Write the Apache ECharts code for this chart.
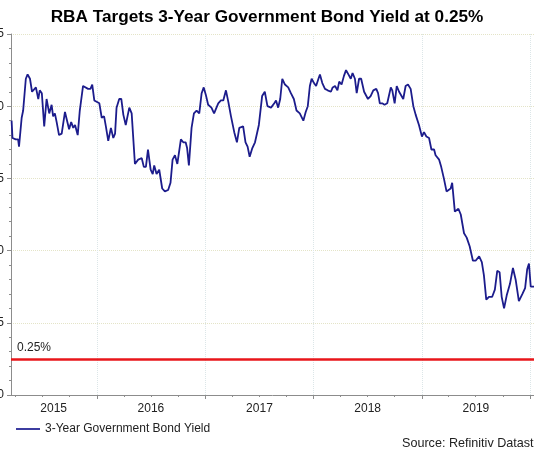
<!DOCTYPE html>
<html>
<head>
<meta charset="utf-8">
<script src="https://cdn.jsdelivr.net/npm/echarts@6/dist/echarts.min.js"></script>
<style>
html,body{margin:0;padding:0;background:#fff;}
#chart{width:534px;height:453px;}
</style>
</head>
<body>
<div id="chart"></div>
<script>
var titleText = 'RBA Targets 3-Year Government Bond Yield at 0.25%';
var seriesName = '3-Year Government Bond Yield';
var sourceText = 'Source: Refinitiv Datastream';
var targetYield = 0.25;
var targetLabel = '0.25%';
var axisMin = '2015-03-17';
var axisMax = '2020-01-14';
var yearStarts = ['2016-01-01','2017-01-01','2018-01-01','2019-01-01','2020-01-01'];
var quarterTicks = ['2015-04-01','2015-07-01','2015-10-01','2016-04-01','2016-07-01','2016-10-01',
  '2017-04-01','2017-07-01','2017-10-01','2018-04-01','2018-07-01','2018-10-01',
  '2019-04-01','2019-07-01','2019-10-01'];
var yearLabelPos = ['2015-08-08','2016-07-01','2017-07-02','2018-07-02','2019-07-02'];

var dates = [
'2015-03-19','2015-03-22','2015-04-02','2015-04-10','2015-04-13','2015-04-22','2015-04-27','2015-05-06','2015-05-12','2015-05-20',
'2015-05-27','2015-06-02','2015-06-09','2015-06-17','2015-06-22','2015-06-29','2015-07-07','2015-07-15','2015-07-24','2015-08-01',
'2015-08-06','2015-08-12','2015-08-18','2015-08-26','2015-09-04','2015-09-15','2015-09-29','2015-10-06','2015-10-13','2015-10-19',
'2015-10-28','2015-11-04','2015-11-15','2015-12-02','2015-12-10','2015-12-16','2015-12-23',
'2016-01-09','2016-01-17','2016-01-25','2016-01-31','2016-02-08','2016-02-17','2016-02-25','2016-03-02','2016-03-07','2016-03-16',
'2016-03-23','2016-03-30','2016-04-07','2016-04-14','2016-04-19','2016-04-27','2016-05-08','2016-05-19','2016-05-31','2016-06-07',
'2016-06-14','2016-06-21','2016-06-30','2016-07-07','2016-07-12','2016-07-20','2016-07-29','2016-08-08','2016-08-17','2016-08-28',
'2016-09-05','2016-09-12','2016-09-20','2016-09-28','2016-10-10','2016-10-18','2016-10-26','2016-10-31','2016-11-06','2016-11-15',
'2016-11-23','2016-12-02','2016-12-11','2016-12-19','2016-12-26',
'2017-01-02','2017-01-10','2017-01-21','2017-01-30','2017-02-05','2017-02-13','2017-02-22','2017-03-02','2017-03-11','2017-03-19',
'2017-03-28','2017-04-08','2017-04-17','2017-04-25','2017-05-01','2017-05-08','2017-05-16','2017-05-23','2017-05-30','2017-06-08',
'2017-06-17','2017-06-30','2017-07-11','2017-07-20','2017-07-29','2017-08-10','2017-08-21','2017-08-27','2017-09-03','2017-09-10',
'2017-09-17','2017-09-26','2017-10-07','2017-10-16','2017-10-26','2017-11-04','2017-11-15','2017-11-21','2017-11-27','2017-12-05',
'2017-12-12','2017-12-19','2017-12-25',
'2018-01-02','2018-01-09','2018-01-17','2018-01-22','2018-01-30','2018-02-08','2018-02-17','2018-02-22','2018-02-28','2018-03-06',
'2018-03-14','2018-03-22','2018-03-28','2018-04-05','2018-04-13','2018-04-20','2018-04-28','2018-05-06','2018-05-12','2018-05-20',
'2018-05-26','2018-06-03','2018-06-10','2018-06-20','2018-07-03','2018-07-12','2018-07-21','2018-07-31','2018-08-06','2018-08-12',
'2018-08-20','2018-08-28','2018-09-06','2018-09-12','2018-09-18','2018-09-23','2018-10-01','2018-10-08','2018-10-16','2018-10-21',
'2018-10-30','2018-11-07','2018-11-15','2018-11-24','2018-12-03','2018-12-11','2018-12-22',
'2019-01-01','2019-01-08','2019-01-16','2019-01-25','2019-02-02','2019-02-11','2019-02-16','2019-02-28','2019-03-07','2019-03-16',
'2019-03-25','2019-04-08','2019-04-13','2019-04-22','2019-05-04','2019-05-12','2019-05-23','2019-06-01','2019-06-11','2019-06-22',
'2019-07-01','2019-07-13','2019-07-22','2019-07-29','2019-08-06','2019-08-15','2019-08-26','2019-09-04','2019-09-12','2019-09-20',
'2019-09-27','2019-10-05','2019-10-14','2019-10-25','2019-11-04','2019-11-13','2019-11-24','2019-12-06','2019-12-15','2019-12-22',
'2019-12-28','2020-01-03','2020-01-08','2020-01-14'
];

var yields = [
1.90,1.78,1.77,1.77,1.72,1.92,1.97,2.19,2.22,2.19,
2.10,2.10,2.13,2.05,2.11,2.09,1.86,2.05,1.95,2.01,
1.93,1.95,1.89,1.80,1.81,1.96,1.84,1.89,1.85,1.87,
1.80,1.97,2.14,2.12,2.12,2.15,2.04,
2.02,1.92,1.93,1.86,1.76,1.85,1.78,1.81,1.99,2.05,
2.05,1.94,1.87,1.94,1.99,1.95,1.60,1.63,1.64,1.58,
1.58,1.70,1.56,1.53,1.59,1.53,1.56,1.43,1.41,1.42,
1.47,1.63,1.66,1.60,1.77,1.75,1.75,1.71,1.59,1.85,
1.95,1.97,1.95,2.09,2.13,
2.08,2.01,1.99,1.95,1.94,2.02,2.04,2.04,2.11,2.03,
1.93,1.82,1.75,1.85,1.84,1.86,1.75,1.72,1.65,1.71,
1.75,1.87,2.07,2.10,2.00,1.99,2.02,2.04,1.99,2.05,
2.19,2.15,2.13,2.09,2.05,1.97,1.95,1.94,1.90,1.96,
2.00,2.14,2.19,
2.16,2.14,2.19,2.22,2.16,2.12,2.11,2.12,2.10,2.13,
2.14,2.11,2.17,2.15,2.21,2.25,2.22,2.19,2.23,2.19,
2.09,2.19,2.19,2.10,2.05,2.07,2.11,2.12,2.09,2.02,
2.02,2.01,2.02,2.02,2.13,2.11,2.02,2.14,2.10,2.09,
2.05,2.14,2.15,2.12,2.00,1.94,1.87,
1.79,1.82,1.79,1.78,1.70,1.70,1.66,1.63,1.58,1.50,
1.41,1.43,1.47,1.27,1.29,1.25,1.12,1.09,1.03,0.93,
0.93,0.96,0.92,0.83,0.66,0.68,0.68,0.73,0.86,0.85,
0.68,0.60,0.69,0.77,0.88,0.80,0.65,0.70,0.74,0.87,
0.91,0.75,0.76,0.75
];

function ts(s){ var p = s.split('-'); return Date.UTC(+p[0], +p[1]-1, +p[2]); }

var FONT = 'Arial, "Liberation Sans", sans-serif';
var lineData = dates.map(function(d, i){ return [ts(d), yields[i]]; });

var chart = echarts.init(document.getElementById('chart'), null, {renderer: 'canvas'});
var axisGray = '#8c8c8c';
chart.setOption({
  animation: false,
  backgroundColor: '#ffffff',
  title: {
    text: titleText, left: 'center', top: 4,
    textStyle: {fontFamily: FONT, fontSize: 17.2, fontWeight: 'bold', color: '#000'}
  },
  grid: {left: 11, right: 0, top: 34, bottom: 58, containLabel: false, outerBoundsMode: 'none'},
  legend: {
    left: 11, top: 418, itemWidth: 24, itemHeight: 2, itemGap: 7,
    data: [{name: seriesName, icon: 'rect', itemStyle: {color: '#3c3ca0'}}],
    textStyle: {fontFamily: FONT, fontSize: 12, color: '#222'}
  },
  xAxis: [{
    type: 'value', min: ts(axisMin), max: ts(axisMax), scale: true,
    axisLine: {onZero: false, lineStyle: {color: axisGray, width: 1}},
    axisTick: {show: true, customValues: yearStarts.map(ts), length: 4, lineStyle: {color: axisGray}},
    axisLabel: {customValues: yearLabelPos.map(ts), formatter: function(v){ return String(new Date(v).getUTCFullYear()); },
      margin: 8, fontFamily: FONT, fontSize: 12, color: '#222', hideOverlap: false},
    splitLine: {show: true, lineStyle: {type: 'dotted', color: '#dce6e8', width: 1}}
  }, {
    type: 'value', min: ts(axisMin), max: ts(axisMax), scale: true, position: 'bottom',
    axisLine: {show: false, onZero: false},
    axisTick: {show: true, customValues: quarterTicks.map(ts), length: 2, lineStyle: {color: axisGray}},
    axisLabel: {show: false},
    splitLine: {show: false}
  }],
  yAxis: {
    type: 'value', min: 0, max: 2.5, interval: 0.5,
    axisLine: {show: true, lineStyle: {color: axisGray}},
    axisTick: {show: true, length: 4, lineStyle: {color: axisGray}},
    minorTick: {show: true, splitNumber: 5, length: 2, lineStyle: {color: axisGray}},
    axisLabel: {margin: 7, formatter: function(v){ return v.toFixed(1); }, fontFamily: FONT, fontSize: 12, color: '#222'},
    splitLine: {show: true, lineStyle: {type: 'dotted', color: '#e4e4c8', width: 1}}
  },
  series: [{
    name: seriesName, type: 'line', xAxisIndex: 0, data: lineData,
    showSymbol: false, symbol: 'none',
    lineStyle: {color: '#1c1c8c', width: 1.8},
    itemStyle: {color: '#1c1c8c'},
    markLine: {
      silent: true, symbol: ['none', 'none'],
      data: [{yAxis: targetYield}],
      lineStyle: {color: '#e8161a', width: 2.5, type: 'solid'},
      label: {show: true, position: 'insideStartTop', formatter: targetLabel, distance: [6, 5],
        fontFamily: FONT, fontSize: 12, color: '#222'}
    }
  }],
  graphic: [{
    type: 'text', left: 402, top: 437,
    style: {text: sourceText, font: '12.6px ' + FONT, fill: '#222'}
  }]
});
</script>
</body>
</html>
